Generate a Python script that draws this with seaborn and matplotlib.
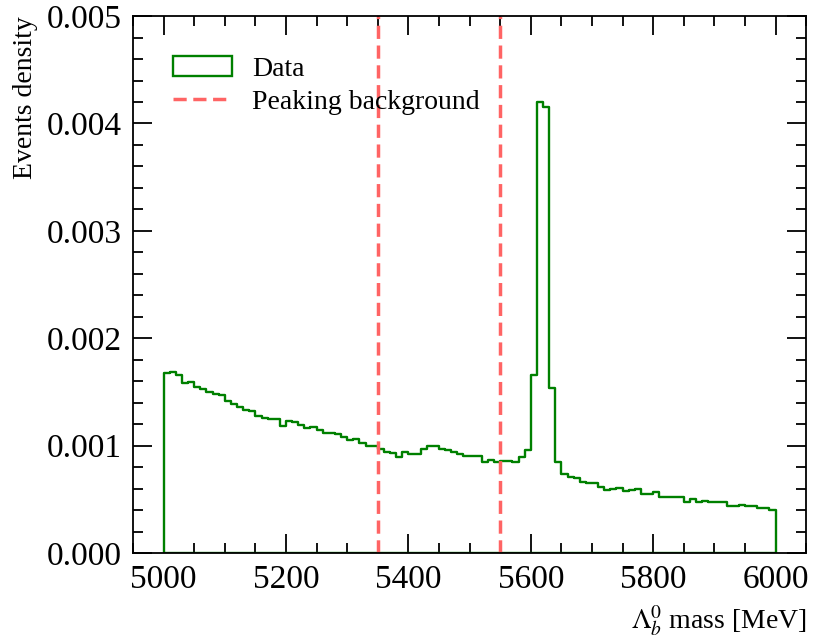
import numpy as np
import matplotlib
matplotlib.use("Agg")
import matplotlib.pyplot as plt
import seaborn as sns

# bin edges (10 MeV bins from 5000 to 6000) and density per bin
edges = np.arange(5000, 6001, 10)
density = np.array([
    1.676, 1.686, 1.660, 1.583, 1.589, 1.546, 1.527, 1.495, 1.483, 1.474,
    1.411, 1.390, 1.356, 1.334, 1.318, 1.272, 1.259, 1.250, 1.250, 1.185,
    1.228, 1.219, 1.194, 1.163, 1.172, 1.141, 1.119, 1.119, 1.107, 1.076,
    1.048, 1.057, 1.023, 0.998, 0.998, 0.972, 0.939, 0.930, 0.895, 0.939,
    0.921, 0.921, 0.967, 0.992, 0.992, 0.970, 0.961, 0.945, 0.921, 0.899,
    0.899, 0.899, 0.846, 0.865, 0.846, 0.852, 0.852, 0.843, 0.896, 0.961,
    1.654, 4.204, 4.154, 1.536, 0.846, 0.735, 0.706, 0.694, 0.665, 0.650,
    0.650, 0.619, 0.591, 0.600, 0.606, 0.581, 0.588, 0.597, 0.547, 0.547,
    0.566, 0.525, 0.525, 0.525, 0.525, 0.479, 0.501, 0.479, 0.488, 0.479,
    0.473, 0.473, 0.438, 0.438, 0.448, 0.438, 0.438, 0.417, 0.417, 0.401,
]) * 1e-3
centers = 0.5 * (edges[:-1] + edges[1:])

peak_bkg = [5350, 5550]

sns.set_style("ticks", {"axes.edgecolor": "black", "text.color": "black",
                        "xtick.color": "black", "ytick.color": "black",
                        "axes.labelcolor": "black"})
plt.rcParams["font.family"] = ["Liberation Serif", "DejaVu Serif"]
plt.rcParams["mathtext.fontset"] = "stix"

fig = plt.figure(figsize=(8.14, 6.43), dpi=100)
ax = fig.add_axes([0.1634, 0.14, 0.827, 0.835])

sns.histplot(
    x=centers,
    weights=density,
    binwidth=10,
    binrange=(edges[0], edges[-1]),
    element="step",
    fill=True,
    facecolor="none",
    color="green",
    linewidth=1.7,
    label="Data",
    ax=ax,
)

for i, m in enumerate(peak_bkg):
    ax.axvline(
        m,
        color="#ff6464",
        linestyle=(0, (3.8, 1.9)),
        linewidth=2.5,
        label="Peaking background" if i == 0 else None,
    )

ax.set_ylim(0, 0.005)
ax.set_xticks([5000, 5200, 5400, 5600, 5800, 6000])
ax.set_yticks([0, 0.001, 0.002, 0.003, 0.004, 0.005])
ax.set_yticklabels(["0.000", "0.001", "0.002", "0.003", "0.004", "0.005"])
ax.xaxis.set_minor_locator(matplotlib.ticker.MultipleLocator(50))
ax.yaxis.set_minor_locator(matplotlib.ticker.MultipleLocator(0.0002))

ax.tick_params(which="both", direction="in", top=True, right=True,
               labelsize=24, width=1.3, pad=8, colors="black")
ax.tick_params(which="major", length=14)
ax.tick_params(which="minor", length=7)
for s in ax.spines.values():
    s.set_linewidth(1.3)
    s.set_color("black")

ax.set_xlabel(r"$\Lambda_b^0$ mass [MeV]", fontsize=20, loc="right", labelpad=6, color="black")
ax.set_ylabel("Events density", fontsize=20, loc="top", labelpad=6, color="black")

leg = ax.legend(loc="upper left", frameon=False, fontsize=20,
                handlelength=2.1, handletextpad=0.75, borderaxespad=1.05,
                labelspacing=0.28)
for t in leg.get_texts():
    t.set_color("black")

fig.savefig("out.png", dpi=100)
